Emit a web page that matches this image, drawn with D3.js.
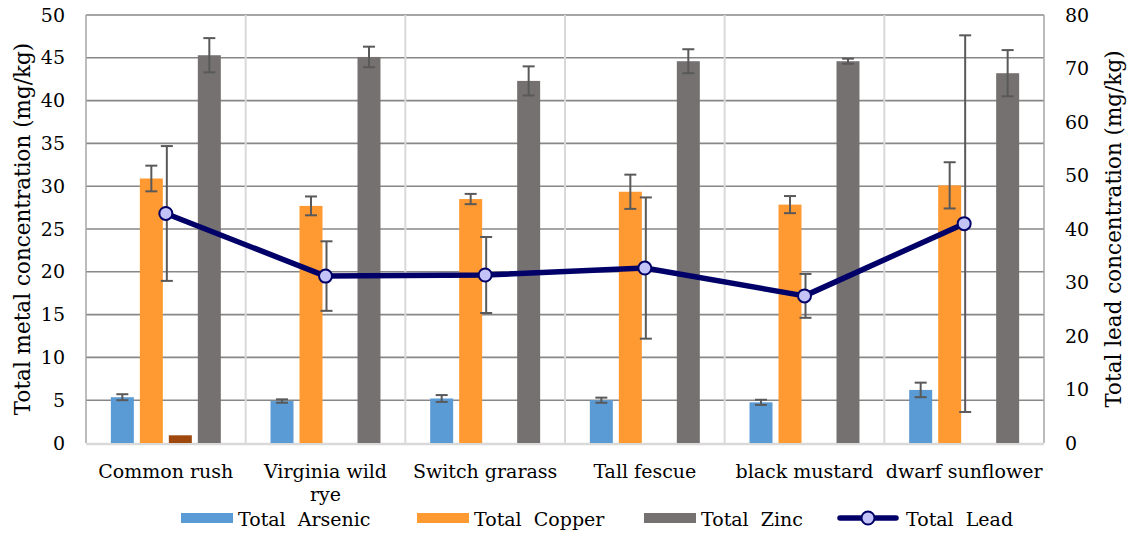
<!DOCTYPE html>
<html>
<head>
<meta charset="utf-8">
<script src="https://cdn.jsdelivr.net/npm/d3@7"></script>
<style>
  body { margin: 0; background: #fff; }
</style>
</head>
<body>
<div id="chart"></div>
<script>
// data
var plants = ["Common rush", "Virginia wild rye", "Switch grarass", "Tall fescue", "black mustard", "dwarf sunflower"];
var arsenic = [5.35, 4.9, 5.2, 5.0, 4.75, 6.2];
var arsenicErr = [0.35, 0.2, 0.4, 0.3, 0.3, 0.85];
var copper = [30.9, 27.7, 28.5, 29.35, 27.85, 30.1];
var copperErr = [1.5, 1.1, 0.6, 2.0, 1.0, 2.7];
var extra = [0.9, 0, 0, 0, 0, 0]; // unlabelled brown series
var zinc = [45.3, 45.1, 42.3, 44.6, 44.6, 43.2];
var zincErr = [2.0, 1.2, 1.7, 1.4, 0.3, 2.7];
var lead = [42.9, 31.2, 31.4, 32.7, 27.5, 41.0];
var leadErr = [12.6, 6.5, 7.1, 13.2, 4.1, 35.2];
var leftTicks = [0, 5, 10, 15, 20, 25, 30, 35, 40, 45, 50];
var rightTicks = [0, 10, 20, 30, 40, 50, 60, 70, 80];

var W = 1139, H = 534;
var margin = {top: 15, right: 95, bottom: 91, left: 86};
var serif = "DejaVu Serif";

var svg = d3.select("#chart").append("svg")
  .attr("width", W)
  .attr("height", H)
  .attr("font-family", serif);

var x0 = d3.scaleBand()
  .domain(plants)
  .range([margin.left, W - margin.right]);

var keys = ["as", "cu", "ex", "zn"];
var x1 = d3.scaleBand()
  .domain(keys)
  .range([0, x0.bandwidth()])
  .paddingInner(0.207)
  .paddingOuter(0.857);

var y = d3.scaleLinear().domain([0, 50]).range([H - margin.bottom, margin.top]);
var y2 = d3.scaleLinear().domain([0, 80]).range([H - margin.bottom, margin.top]);

var colors = {as: "#5b9bd5", cu: "#ff9a33", ex: "#9e480e", zn: "#767171"};

// horizontal gridlines
svg.append("g")
  .selectAll("line")
  .data(leftTicks.slice(1))
  .enter().append("line")
    .attr("x1", margin.left)
    .attr("x2", W - margin.right)
    .attr("y1", function(d) { return y(d); })
    .attr("y2", function(d) { return y(d); })
    .style("stroke", "#878787")
    .style("stroke-width", 1.6);

// vertical separators between categories
svg.append("g")
  .selectAll("line")
  .data(plants.slice(1))
  .enter().append("line")
    .attr("x1", function(d) { return x0(d); })
    .attr("x2", function(d) { return x0(d); })
    .attr("y1", margin.top)
    .attr("y2", y(0))
    .style("stroke", "#d9d9d9")
    .style("stroke-width", 2);

// frame: left, right, bottom
svg.append("line").attr("x1", margin.left).attr("x2", margin.left)
  .attr("y1", margin.top).attr("y2", y(0))
  .style("stroke", "#a6a6a6").style("stroke-width", 1.5);
svg.append("line").attr("x1", W - margin.right).attr("x2", W - margin.right)
  .attr("y1", margin.top).attr("y2", y(0))
  .style("stroke", "#a6a6a6").style("stroke-width", 1.5);
svg.append("line").attr("x1", margin.left).attr("x2", W - margin.right)
  .attr("y1", y(0) + 1).attr("y2", y(0) + 1)
  .style("stroke", "#d9d9d9").style("stroke-width", 2.5);

// build rows for the bars
var rows = plants.map(function(p, i) {
  return [
    {plant: p, key: "as", v: arsenic[i], e: arsenicErr[i]},
    {plant: p, key: "cu", v: copper[i], e: copperErr[i]},
    {plant: p, key: "ex", v: extra[i], e: 0},
    {plant: p, key: "zn", v: zinc[i], e: zincErr[i]}
  ];
});
var bars = [].concat.apply([], rows).filter(function(d) { return d.v > 0; });

svg.append("g")
  .selectAll("rect")
  .data(bars)
  .enter().append("rect")
    .attr("x", function(d) { return x0(d.plant) + x1(d.key); })
    .attr("y", function(d) { return y(d.v); })
    .attr("width", x1.bandwidth())
    .attr("height", function(d) { return y(0) - y(d.v); })
    .style("fill", function(d) { return colors[d.key]; });

// error bars for the bars
var errs = bars.filter(function(d) { return d.e > 0; });
var eg = svg.append("g").style("stroke", "#595959").style("stroke-width", 2);
errs.forEach(function(d) {
  var cx = x0(d.plant) + x1(d.key) + x1.bandwidth() / 2;
  eg.append("line").attr("x1", cx).attr("x2", cx)
    .attr("y1", y(d.v + d.e)).attr("y2", y(d.v - d.e));
  [d.v + d.e, d.v - d.e].forEach(function(v) {
    eg.append("line").attr("x1", cx - 6).attr("x2", cx + 6)
      .attr("y1", y(v)).attr("y2", y(v));
  });
});

// lead line on the right axis
var leadData = plants.map(function(p, i) { return {plant: p, v: lead[i], e: leadErr[i]}; });
var lx = function(d) { return x0(d.plant) + x0.bandwidth() / 2; };

svg.append("path")
  .datum(leadData)
  .attr("d", d3.line().x(lx).y(function(d) { return y2(d.v); }))
  .style("fill", "none")
  .style("stroke", "#000068")
  .style("stroke-width", 5.5)
  .style("stroke-linejoin", "round");

var lg = svg.append("g").style("stroke", "#595959").style("stroke-width", 2);
leadData.forEach(function(d) {
  var cx = lx(d) + 1;
  lg.append("line").attr("x1", cx).attr("x2", cx)
    .attr("y1", y2(d.v + d.e)).attr("y2", y2(d.v - d.e));
  [d.v + d.e, d.v - d.e].forEach(function(v) {
    lg.append("line").attr("x1", cx - 6).attr("x2", cx + 6)
      .attr("y1", y2(v)).attr("y2", y2(v));
  });
});

svg.append("g")
  .selectAll("circle")
  .data(leadData)
  .enter().append("circle")
    .attr("cx", lx)
    .attr("cy", function(d) { return y2(d.v); })
    .attr("r", 6.5)
    .style("fill", "#c3c3f7")
    .style("stroke", "#000068")
    .style("stroke-width", 2);

// axes (ticks only, no domain line)
var fs = 19;
var leftAxis = svg.append("g")
  .attr("transform", "translate(" + (margin.left - 21) + ",0)")
  .call(d3.axisLeft(y).tickValues(leftTicks).tickSize(0).tickPadding(0));
var rightAxis = svg.append("g")
  .attr("transform", "translate(" + (W - margin.right + 21) + ",0)")
  .call(d3.axisRight(y2).tickValues(rightTicks).tickSize(0).tickPadding(0));
[leftAxis, rightAxis].forEach(function(a) {
  a.attr("font-family", serif).attr("font-size", fs);
  a.select(".domain").remove();
  a.selectAll("text").attr("fill", "#000");
});

// category labels, wrapped like the original
var catLabels = [["Common rush"], ["Virginia wild", "rye"], ["Switch grarass"], ["Tall fescue"], ["black mustard"], ["dwarf sunflower"]];
plants.forEach(function(p, i) {
  var t = svg.append("text")
    .attr("x", x0(p) + x0.bandwidth() / 2)
    .attr("y", 478)
    .attr("text-anchor", "middle")
    .attr("font-family", serif)
    .attr("font-size", fs);
  catLabels[i].forEach(function(line, j) {
    t.append("tspan")
      .attr("x", x0(p) + x0.bandwidth() / 2)
      .attr("dy", j == 0 ? 0 : 23)
      .text(line);
  });
});

// axis titles
svg.append("text")
  .attr("transform", "translate(30," + ((margin.top + y(0)) / 2) + ") rotate(-90)")
  .attr("text-anchor", "middle")
  .attr("font-family", serif)
  .attr("font-size", 21.5)
  .text("Total metal concentration (mg/kg)");
svg.append("text")
  .attr("transform", "translate(1121," + ((margin.top + y(0)) / 2) + ") rotate(-90)")
  .attr("text-anchor", "middle")
  .attr("font-family", serif)
  .attr("font-size", 21.5)
  .text("Total lead concentration (mg/kg)");

// legend
var legendItems = [
  {label: "Total  Arsenic", key: "as", x: 181},
  {label: "Total  Copper", key: "cu", x: 417},
  {label: "Total  Zinc", key: "zn", x: 644},
  {label: "Total  Lead", key: "pb", x: 840}
];
legendItems.forEach(function(d) {
  var g = svg.append("g").attr("transform", "translate(" + d.x + ",518)");
  if (d.key == "pb") {
    g.append("line").attr("x1", 0).attr("x2", 56).attr("y1", 0).attr("y2", 0)
      .style("stroke", "#000068").style("stroke-width", 5.5).style("stroke-linecap", "round");
    g.append("circle").attr("cx", 28).attr("cy", 0).attr("r", 6.5)
      .style("fill", "#c3c3f7").style("stroke", "#000068").style("stroke-width", 2);
  } else {
    g.append("rect").attr("x", 0).attr("y", -5).attr("width", 52).attr("height", 10)
      .style("fill", colors[d.key]);
  }
  g.append("text")
    .attr("x", d.key == "pb" ? 66 : 57)
    .attr("y", 8)
    .attr("font-family", serif)
    .attr("font-size", fs)
    .style("white-space", "pre")
    .text(d.label);
});
</script>
</body>
</html>
